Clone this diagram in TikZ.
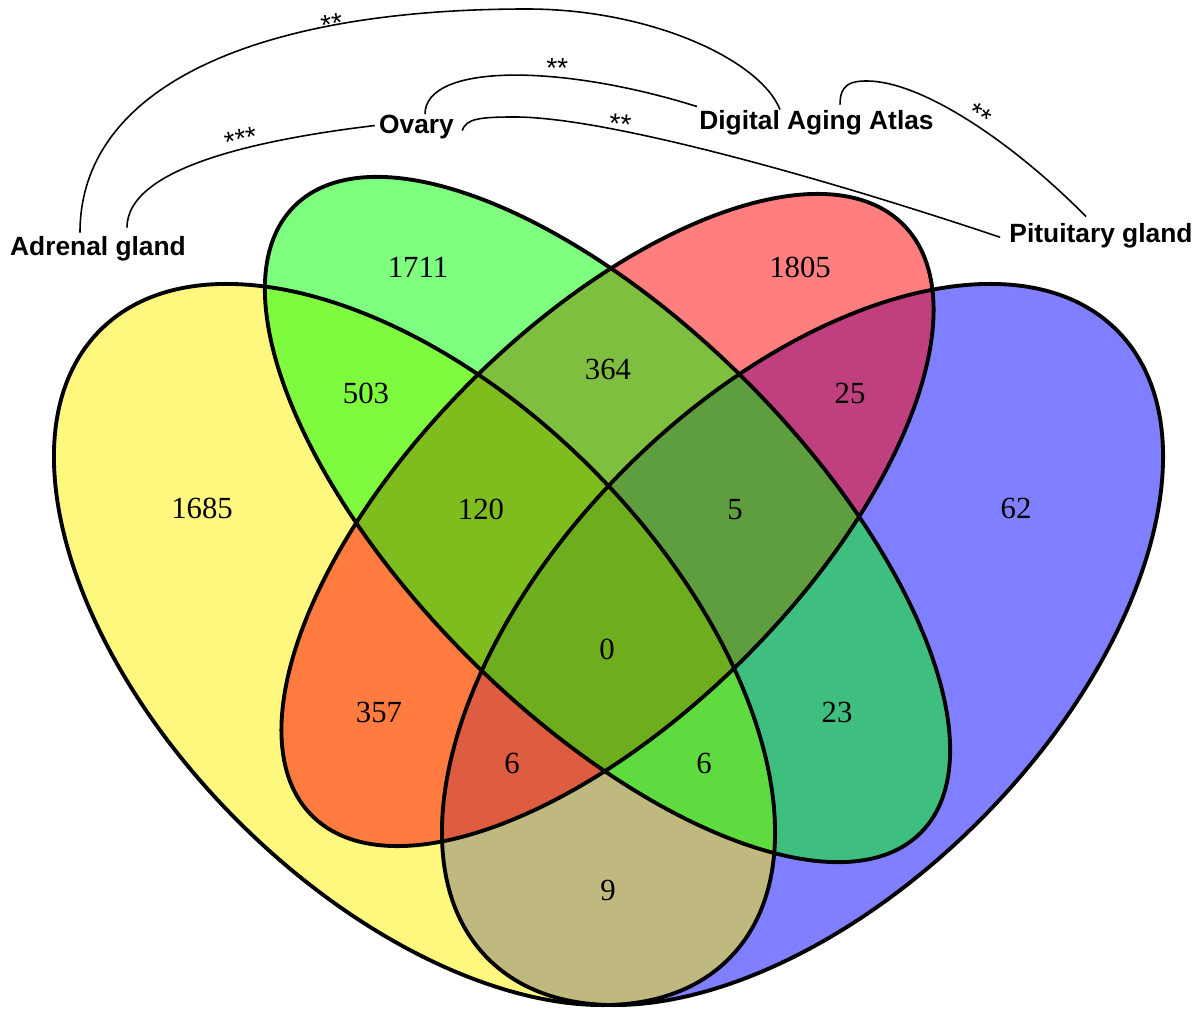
\documentclass[tikz,border=0pt]{standalone}
\usepackage{fontspec}
\setmainfont{Liberation Serif}
\setsansfont{Liberation Sans}
\usetikzlibrary{calc,positioning}

\tikzset{
  setline/.style={draw=black,line width=2.2pt},
  tissue/.style={font=\sffamily\bfseries\fontsize{15}{18}\selectfont,inner sep=0pt,anchor=base},
  count/.style={font=\fontsize{17.5}{20}\selectfont,inner sep=0pt,anchor=base},
  stars/.style={font=\sffamily\fontsize{16}{18}\selectfont,inner sep=0pt},
  link/.style={draw=black,line width=0.9pt}
}

\begin{document}
\begin{tikzpicture}[x=0.02cm,y=-0.02cm]
    \useasboundingbox (0,0) rectangle (1198,1013);

    \coordinate (Y) at (414.5,644.5);
    \coordinate (B) at (802.5,644.5);
    \coordinate (G) at (607.5,519.5);
    \coordinate (R) at (607.5,520);

    \fill[blue,fill opacity=0.5,rotate around={45:(B)}] (B) ellipse [x radius=444.5,y radius=249.7];
    \fill[yellow,fill opacity=0.5,rotate around={-45:(Y)}] (Y) ellipse [x radius=444.5,y radius=249.7];
    \fill[red,fill opacity=0.5,rotate around={45:(R)}] (R) ellipse [x radius=418,y radius=194.5];
    \fill[green,fill opacity=0.5,rotate around={-45:(G)}] (G) ellipse [x radius=443,y radius=196];

    \draw[setline,rotate around={45:(B)}] (B) ellipse [x radius=444.5,y radius=249.7];
    \draw[setline,rotate around={-45:(Y)}] (Y) ellipse [x radius=444.5,y radius=249.7];
    \draw[setline,rotate around={45:(R)}] (R) ellipse [x radius=418,y radius=194.5];
    \draw[setline,rotate around={-45:(G)}] (G) ellipse [x radius=443,y radius=196];

    \node[count] (n1711) at (418,277.5) {1711};
    \node[count] (n1805) at (800,277.5) {1805};
    \node[count] (n503) at (366,403.5) {503};
    \node[count] (n364) at (608,379.5) {364};
    \node[count] (n25) at (850,403.5) {25};
    \node[count] (n1685) at (202,519) {1685};
    \node[count] (n120) at (481,519.5) {120};
    \node[count] (n5) at (735,519.5) {5};
    \node[count] (n62) at (1016,519) {62};
    \node[count] (n0) at (607,659.5) {0};
    \node[count] (n357) at (379,722.5) {357};
    \node[count] (n23) at (837,722.5) {23};
    \node[count] (n6a) at (512,773.5) {6};
    \node[count] (n6b) at (704,773.5) {6};
    \node[count] (n9) at (608,900) {9};

    \node[tissue] (adrenal) at (98,256) {Adrenal gland};
    \node[tissue] (ovary) at (416.5,134) {Ovary};
    \node[tissue] (daa) at (816.5,130) {Digital Aging Atlas};
    \node[tissue] (pituitary) at (1101,243) {Pituitary gland};

    \draw[link] ($(adrenal.north)+(-18,-4)$) .. controls +(0,-143) and +(-277,0) .. (527,9)
        .. controls +(123,0) and +(-20,-50) .. ($(daa.north west)+(81,-1)$);
    \draw[link] ($(adrenal.north)+(29,-9)$) .. controls +(0,-58) and +(-125,15) .. ($(ovary.west)+(-4,-2)$);
    \draw[link] ($(ovary.north)+(8.5,-1)$) .. controls +(0,-51) and +(-137,-43) .. ($(daa.north west)+(-2,-4)$);
    \draw[link] ($(ovary.east)+(8,3)$) .. controls +(4,-12) and +(-35,0) .. (515,117)
        .. controls +(85,0) and +(-200,-67) .. ($(pituitary.west)+(-9,1)$);
    \draw[link] ($(daa.north west)+(141,-6)$) .. controls +(0,-20) and +(-17,0) .. (867,81)
        .. controls +(53,0) and +(-76,-77) .. ($(pituitary.north)+(-15,-7)$);

    \node[stars,rotate=10] (sig1) at (332,24) {**};
    \node[stars,rotate=13] (sig2) at (241,139) {***};
    \node[stars,rotate=-3] (sig3) at (557,68) {**};
    \node[stars,rotate=-7] (sig4) at (620,124) {**};
    \node[stars,rotate=-32] (sig5) at (980,115) {**};
\end{tikzpicture}
\end{document}
